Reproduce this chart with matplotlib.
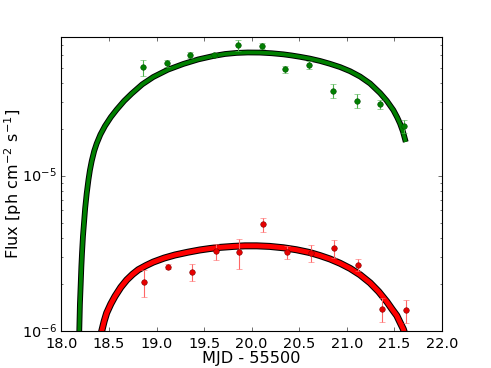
import matplotlib
matplotlib.use("Agg")
import matplotlib.pyplot as plt
import matplotlib.patheffects as pe
from matplotlib.ticker import NullFormatter, LogLocator

plt.style.use("classic")
plt.rcParams["mathtext.default"] = "regular"
plt.rcParams["font.size"] = 13

# Data points (MJD - 55500, flux)
green_t = [18.855, 19.107, 19.352, 19.605, 19.854, 20.106, 20.354, 20.604, 20.853, 21.105, 21.353, 21.602]
green_f = [5.02e-5, 5.33e-5, 6.01e-5, 6.03e-5, 6.97e-5, 6.93e-5, 4.88e-5, 5.20e-5, 3.55e-5, 3.05e-5, 2.91e-5, 2.10e-5]
green_e = [0.6e-5, 0.3e-5, 0.27e-5, 0.15e-5, 0.55e-5, 0.3e-5, 0.25e-5, 0.33e-5, 0.35e-5, 0.32e-5, 0.2e-5, 0.2e-5]

red_t = [18.869, 19.121, 19.370, 19.622, 19.871, 20.123, 20.372, 20.621, 20.870, 21.122, 21.371, 21.620]
red_f = [2.07e-6, 2.60e-6, 2.40e-6, 3.27e-6, 3.22e-6, 4.88e-6, 3.23e-6, 3.19e-6, 3.43e-6, 2.69e-6, 1.39e-6, 1.36e-6]
red_e = [0.4e-6, 0.1e-6, 0.3e-6, 0.38e-6, 0.7e-6, 0.5e-6, 0.33e-6, 0.39e-6, 0.46e-6, 0.23e-6, 0.24e-6, 0.23e-6]

# Model curves (flux in units of 1e-6)
green_curve_t = [18.180, 18.188, 18.195, 18.203, 18.210, 18.217, 18.227, 18.238, 18.250, 18.266,
                 18.285, 18.300, 18.319, 18.345, 18.371, 18.410, 18.458, 18.520, 18.581, 18.660,
                 18.739, 18.850, 18.966, 19.120, 19.282, 19.440, 19.597, 19.720, 19.843, 19.960,
                 20.088, 20.210, 20.333, 20.420, 20.509, 20.610, 20.719, 20.820, 20.930, 21.035,
                 21.140, 21.245, 21.350, 21.420, 21.490, 21.530, 21.560, 21.590, 21.620]
green_curve_f = [0.6, 1.0, 1.5, 2.0, 2.6, 3.2, 4.1, 5.0, 6.2, 7.7,
                 9.5, 10.9, 12.5, 14.5, 16.2, 18.5, 21.0, 24.0, 26.8, 30.5,
                 34.0, 39.0, 43.5, 48.5, 52.8, 56.5, 59.4, 61.2, 62.2, 62.6,
                 62.5, 61.9, 60.9, 59.9, 58.7, 57.2, 55.2, 53.0, 50.4, 47.4,
                 43.8, 39.5, 34.3, 30.6, 26.6, 23.9, 21.8, 19.4, 16.6]

red_curve_t = [18.400, 18.424, 18.450, 18.476, 18.520, 18.564, 18.625, 18.687, 18.750, 18.809,
               18.890, 18.966, 19.080, 19.195, 19.330, 19.457, 19.560, 19.668, 19.808, 19.930,
               20.054, 20.190, 20.333, 20.470, 20.614, 20.720, 20.824, 20.930, 21.035, 21.140,
               21.245, 21.335, 21.421, 21.475, 21.526, 21.560, 21.595, 21.620]
red_curve_f = [0.80, 1.00, 1.16, 1.31, 1.50, 1.68, 1.92, 2.14, 2.33, 2.49,
               2.65, 2.79, 2.96, 3.10, 3.23, 3.34, 3.41, 3.47, 3.52, 3.55,
               3.55, 3.52, 3.45, 3.35, 3.21, 3.07, 2.92, 2.74, 2.54, 2.31,
               2.05, 1.80, 1.55, 1.39, 1.26, 1.14, 1.03, 0.92]
curve_unit = 1e-6

xticks = [18.0, 18.5, 19.0, 19.5, 20.0, 20.5, 21.0, 21.5, 22.0]
xtick_labels = ["18.0", "18.5", "19.0", "19.5", "20.0", "20.5", "21.0", "21.5", "22.0"]

fig = plt.figure(figsize=(491 / 80, 368 / 80), dpi=80, facecolor="white")
ax = fig.add_subplot(111)
ax.set_facecolor("white")

gf = [v * curve_unit for v in green_curve_f]
rf = [v * curve_unit for v in red_curve_f]
ax.plot(green_curve_t, gf, color=(0, 0.5, 0), lw=3.4, solid_capstyle="butt", solid_joinstyle="round",
        path_effects=[pe.Stroke(linewidth=5.2, foreground="k", capstyle="butt"), pe.Normal()], zorder=2)
ax.plot(red_curve_t, rf, color=(1, 0, 0), lw=4.4, solid_capstyle="butt", solid_joinstyle="round",
        path_effects=[pe.Stroke(linewidth=6.3, foreground="k", capstyle="butt"), pe.Normal()], zorder=2)

ax.errorbar(green_t, green_f, yerr=green_e, fmt="o", color=(0, 0.5, 0), ecolor=(0.3, 0.7, 0.3),
            mec=(0, 0.3, 0), ms=5, capsize=3, elinewidth=1, zorder=3)
ax.errorbar(red_t, red_f, yerr=red_e, fmt="o", color=(0.9, 0, 0), ecolor=(1, 0.4, 0.4),
            mec=(0.5, 0, 0), ms=5, capsize=3, elinewidth=1, zorder=3)

ax.set_yscale("log")
ax.set_xlim(18.0, 22.0)
ax.set_ylim(1e-6, 7.9e-5)
ax.set_xticks(xticks)
ax.set_xticklabels(xtick_labels)
ax.set_yticks([1e-6, 1e-5])
ax.set_yticklabels([r"$10^{-6}$", r"$10^{-5}$"])
ax.yaxis.set_minor_locator(LogLocator(base=10, subs=range(2, 10)))
ax.yaxis.set_minor_formatter(NullFormatter())
ax.tick_params(axis="x", pad=5)

ax.set_xlabel("MJD - 55500", fontsize=14.5, labelpad=0)
ax.set_ylabel(r"Flux [ph cm$^{-2}$ s$^{-1}$]", fontsize=14.5)
ax.yaxis.set_label_coords(-0.098, 0.5)

fig.savefig("out.png", dpi=80, facecolor="white")
